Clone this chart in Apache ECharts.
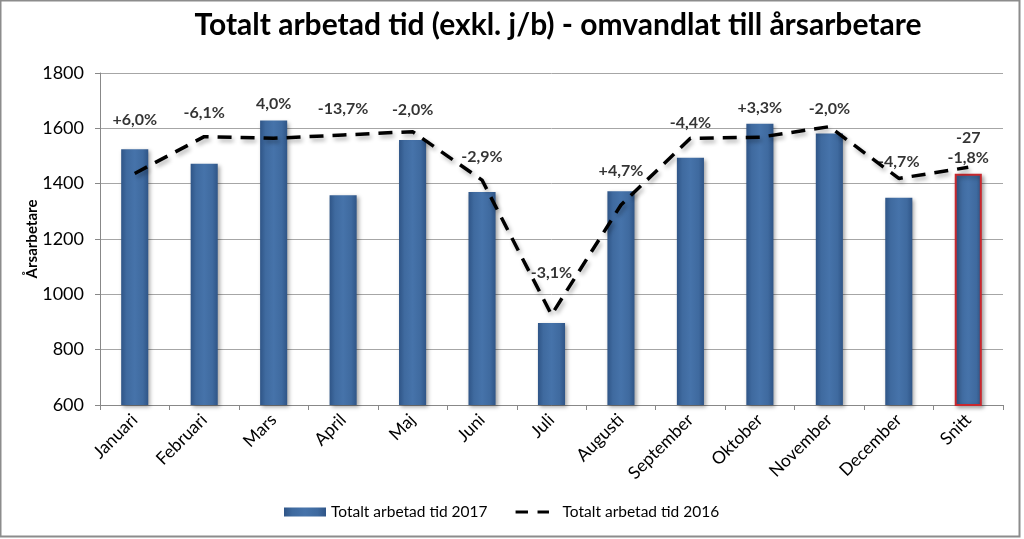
<!DOCTYPE html>
<html><head><meta charset="utf-8">
<script src="https://cdn.jsdelivr.net/npm/echarts@6/dist/echarts.min.js"></script>
<style>html,body{margin:0;padding:0;background:#fff}#c{width:1024px;height:539px}</style>
</head><body><div id="c"></div>
<script>
var categories = ['Januari','Februari','Mars','April','Maj','Juni','Juli','Augusti','September','Oktober','November','December','Snitt'];
var values2017 = [1524,1472,1628,1358,1558,1370,896,1373,1494,1617,1581,1349,1436];
var values2016 = [1437,1570,1564,1576,1588,1413,926,1323,1564,1568,1606,1419,1459];
var changeLabels = ['+6,0%','-6,1%','4,0%','-13,7%','-2,0%','-2,9%','-3,1%','+4,7%','-4,4%','+3,3%','-2,0%','-4,7%','-27\n-1,8%'];
var yTicks = [600,800,1000,1200,1400,1600,1800];

// label gap above the higher of the two marks (styling only)
var labelGap = [20,14,7,16,12,13,32,10,5,6,8,7,-1];

var FONT = 'Lato, "Open Sans", sans-serif';
var chart = echarts.init(document.getElementById('c'));
var barData = values2017.map(function(v,i){
  var d = {value:v};
  if (i === values2017.length-1) d.itemStyle = {borderColor:'#C8282E', borderWidth:2};
  return d;
});
var labelData = values2017.map(function(v,i){
  return {value:Math.max(v, values2016[i]), label:{distance:labelGap[i]}};
});
chart.setOption({
  animation:false,
  title:{text:'Totalt arbetad tid (exkl. j/b) - omvandlat till årsarbetare', left:553, top:5, textAlign:'center',
    textStyle:{fontFamily:FONT, fontWeight:'bold', fontSize:30, color:'#000'}},
  graphic:[{type:'rect', shape:{x:0.5,y:0.5,width:1019,height:536}, style:{fill:'none', stroke:'#8c8c8c', lineWidth:2}, silent:true}],
  grid:{left:100, right:21, top:73, bottom:134},
  legend:{bottom:14, left:279, itemGap:28, itemWidth:42, itemHeight:9,
    textStyle:{fontFamily:FONT, fontSize:15.5, color:'#000'},
    data:[{name:'Totalt arbetad tid 2017', icon:'rect'},
          {name:'Totalt arbetad tid 2016', icon:'path://M0,3h13v3h-13z M23,3h12v3h-12z M0,0h0.01v0.01z M44,9h0.01v0.01z', itemStyle:{color:'#000'}}]},
  xAxis:{type:'category', data:categories,
    axisLine:{lineStyle:{color:'#888'}}, axisTick:{show:true, lineStyle:{color:'#888'}},
    axisLabel:{rotate:45, fontFamily:FONT, fontSize:17.5, color:'#000', margin:12, interval:0}},
  yAxis:{type:'value', min:600, max:1800, interval:200, name:'Årsarbetare', nameLocation:'middle', nameGap:60,
    nameMoveOverlap:false,
    nameTextStyle:{fontFamily:FONT, fontWeight:'bold', fontSize:15, color:'#000'},
    axisLine:{show:true, lineStyle:{color:'#888'}}, axisTick:{show:true, lineStyle:{color:'#888'}},
    splitLine:{lineStyle:{color:'#a6a6a6'}},
    axisLabel:{fontFamily:FONT, fontSize:18, color:'#000', margin:16,
      formatter:function(v){ return yTicks.indexOf(v) >= 0 ? String(v) : ''; }}},
  series:[
    {name:'Totalt arbetad tid 2017', type:'bar', data:barData, barWidth:'39%',
      itemStyle:{color:new echarts.graphic.LinearGradient(0,0,1,0,[
        {offset:0,color:'#2F5587'},{offset:0.2,color:'#3F6A9F'},{offset:0.5,color:'#4673AA'},{offset:0.8,color:'#3F6A9F'},{offset:1,color:'#2F5587'}]),
        shadowColor:'rgba(0,0,0,0.35)', shadowBlur:4, shadowOffsetX:2, shadowOffsetY:2}},
    {name:'Totalt arbetad tid 2016', type:'line', data:values2016, symbol:'none',
      lineStyle:{color:'#000', width:3.5, type:[14,9], shadowColor:'rgba(0,0,0,0.3)', shadowBlur:4, shadowOffsetX:2, shadowOffsetY:3},
      itemStyle:{color:'#000'}},
    {name:'labels', type:'scatter', data:labelData, symbolSize:0, silent:true, z:5,
      label:{show:true, position:'top', fontFamily:FONT, fontWeight:'bold', fontSize:16, color:'#000', lineHeight:20,
        formatter:function(p){ return changeLabels[p.dataIndex]; }}}
  ]
});
</script></body></html>
